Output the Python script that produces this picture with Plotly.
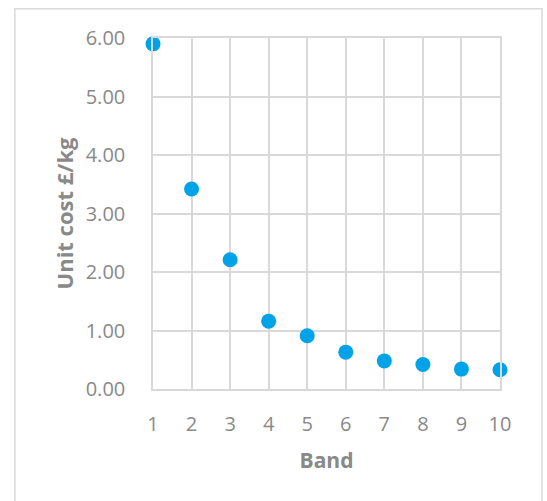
import plotly.graph_objects as go

# Unit cost per band
bands = [1, 2, 3, 4, 5, 6, 7, 8, 9, 10]
unit_cost = [5.90, 3.42, 2.21, 1.16, 0.91, 0.63, 0.48, 0.42, 0.34, 0.33]
y_ticks = [0, 1, 2, 3, 4, 5, 6]
y_tick_labels = ["0.00", "1.00", "2.00", "3.00", "4.00", "5.00", "6.00"]

grey = "#898989"
grid = "#d9d9d9"
font_family = "Open Sans, Liberation Sans, sans-serif"

fig = go.Figure(
    go.Scatter(
        x=bands,
        y=unit_cost,
        mode="markers",
        marker=dict(color="#00a2e8", size=15, line=dict(width=0)),
        cliponaxis=False,
    )
)

fig.update_layout(
    width=547,
    height=501,
    margin=dict(l=153, r=47, t=38, b=112),
    paper_bgcolor="white",
    plot_bgcolor="white",
    showlegend=False,
    font=dict(family=font_family, color=grey, size=20),
    shapes=[
        dict(
            type="rect", xref="paper", yref="paper",
            x0=-0.398, x1=1.121, y0=-0.4, y1=1.083,
            line=dict(color=grid, width=1.5), layer="below",
        )
    ],
)

fig.update_xaxes(
    range=[1, 10],
    tickmode="array",
    tickvals=bands,
    ticktext=[str(b) for b in bands],
    showgrid=True,
    gridcolor=grid,
    gridwidth=1.5,
    zeroline=False,
    showline=True,
    linecolor=grid,
    linewidth=1.5,
    mirror=True,
    ticks="",
    ticklabelstandoff=16,
    tickfont=dict(size=20, color=grey),
    title=dict(text="<b>Band</b>", font=dict(size=21, color=grey), standoff=18),
)

fig.update_yaxes(
    range=[0, 6],
    tickmode="array",
    tickvals=y_ticks,
    ticktext=y_tick_labels,
    showgrid=True,
    gridcolor=grid,
    gridwidth=1.5,
    zeroline=False,
    showline=True,
    linecolor=grid,
    linewidth=1.5,
    mirror=True,
    ticks="",
    ticklabelstandoff=22,
    tickfont=dict(size=20, color=grey),
    title=dict(text="<b>Unit cost £/kg</b>", font=dict(size=22, color=grey), standoff=6),
)

fig.write_html("out.html")
